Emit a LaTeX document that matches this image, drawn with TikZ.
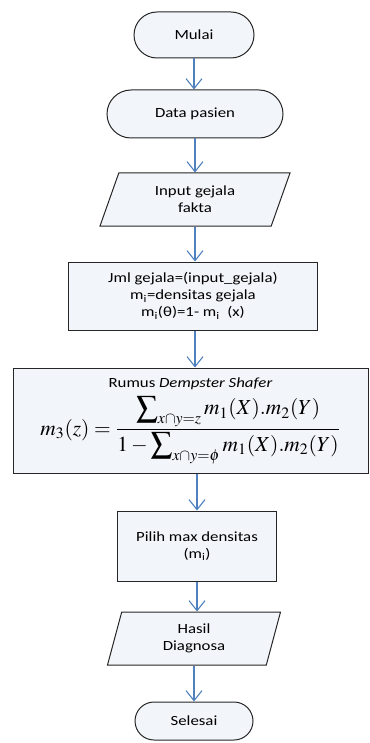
\documentclass[tikz,border=0pt]{standalone}
\usepackage{mathptmx}
\usepackage{fontspec}
\setmainfont{Carlito}[FakeStretch=1.2]
\usepackage{xcolor}
\usepackage{tikz}
\usetikzlibrary{positioning,shapes.geometric,shapes.misc,arrows.meta}

\definecolor{boxfill}{RGB}{242,245,250}
\definecolor{flowblue}{RGB}{79,129,189}
\definecolor{edgegray}{RGB}{38,38,38}

\begin{document}
\begin{tikzpicture}[x=1pt,y=1pt,
    base/.style={draw=edgegray, line width=1pt, fill=boxfill, text=black,
                 font=\fontsize{14}{17}\selectfont, align=center, inner sep=0pt},
    terminal/.style={base, rounded rectangle},
    prosesbox/.style={base, rectangle},
    iobox/.style={base, trapezium, trapezium stretches body},
    alur/.style={draw=flowblue, line width=1.1pt, -{Straight Barb[length=10pt,width=16pt]}}]
    \useasboundingbox (0,0) rectangle (369,-743);

    % Mulai dan data pasien
    \node[terminal, minimum width=120pt, minimum height=46pt] (mulai) at (194,-35) {Mulai};
    \node[terminal, minimum width=176pt, minimum height=48pt] (data) at (195,-114) {Data pasien};

    % Input gejala
    \node[iobox, trapezium left angle=55, trapezium right angle=125,
          minimum width=190pt, minimum height=53pt] (input) at (195,-199.5) {Input gejala\\fakta};

    % Densitas
    \node[prosesbox, minimum width=249pt, minimum height=68pt] (jml) at (193,-296)
        {Jml gejala=(input\_gejala)\\m\textsubscript{i}=densitas gejala\\m\textsubscript{i}(θ)=1- m\textsubscript{i}~ (x)};

    % Rumus Dempster Shafer
    \node[prosesbox, minimum width=355pt, minimum height=105pt] (rumus) at (190.5,-420.5)
        {Rumus \textit{Dempster Shafer}\\[6pt]
         \resizebox{300pt}{!}{$\displaystyle m_3(z)=\frac{\displaystyle\sum\nolimits_{x\cap y=z} m_1(X).m_2(Y)\rule[-4pt]{0pt}{1pt}}{1-\displaystyle\sum\nolimits_{x\cap y=\phi} m_1(X).m_2(Y)}$}};

    % Pilih max
    \node[prosesbox, minimum width=159pt, minimum height=70pt] (pilih) at (197,-546)
        {Pilih max densitas\\(m\textsubscript{i})};

    % Hasil dan selesai
    \node[iobox, trapezium left angle=64, trapezium right angle=116,
          minimum width=173pt, minimum height=53pt] (hasil) at (194,-638.5) {Hasil\\Diagnosa};
    \node[terminal, minimum width=118pt, minimum height=38pt] (selesai) at (194,-721) {Selesai};

    % alur
    \draw[alur] (mulai.south) -- (mulai.south |- data.north);
    \draw[alur] (data.south) -- (data.south |- input.north);
    \draw[alur] (input.south) -- (input.south |- jml.north);
    \draw[alur] (input.south |- jml.south) -- (input.south |- rumus.north);
    \draw[alur] (pilih.north |- rumus.south) -- (pilih.north);
    \draw[alur] (pilih.south) -- (pilih.south |- hasil.north);
    \draw[alur] (hasil.south) -- (hasil.south |- selesai.north);
\end{tikzpicture}
\end{document}
